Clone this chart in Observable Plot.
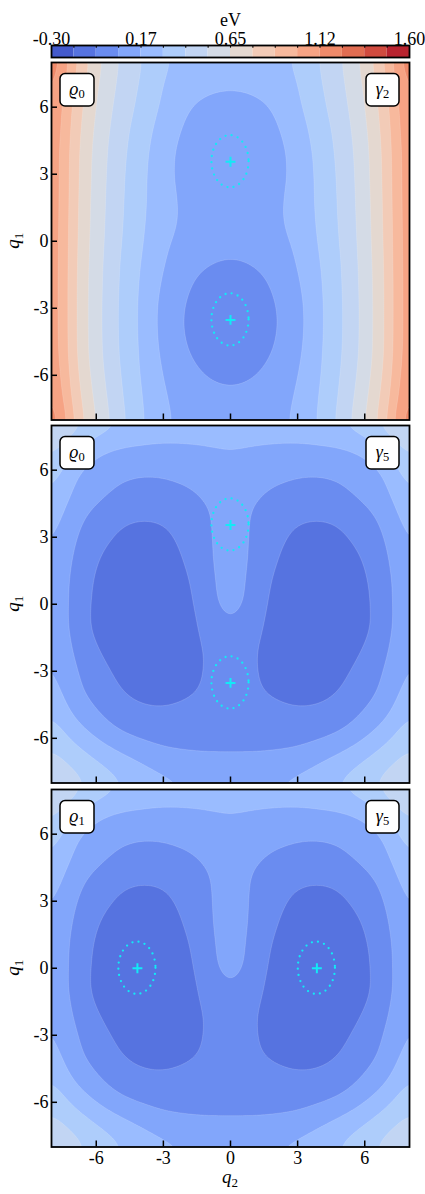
<!DOCTYPE html>
<html>
<head>
<meta charset="utf-8">
<script src="https://cdn.jsdelivr.net/npm/d3@7"></script>
<script src="https://cdn.jsdelivr.net/npm/@observablehq/plot@0.6"></script>
<style>
  body { margin: 0; background: #fff; }
  #chart { width: 425px; }
  #chart svg { display: block; }
</style>
</head>
<body>
<div id="chart"></div>
<script>
// ---------- data ----------
const levels = [-0.30, -0.18125, -0.0625, 0.05625, 0.175, 0.29375, 0.4125, 0.53125, 0.65,
                0.76875, 0.8875, 1.00625, 1.125, 1.24375, 1.3625, 1.48125, 1.60];
const bandColors = ["#445acc","#5673e0","#6a8cf0","#82a6fb","#9abcff","#aecdfb","#c2d5f3","#d4dbe6",
                    "#e4d8d0","#f2cbb7","#f7b99d","#f6a384","#ef8a6a","#e16d52","#d04b3f","#b8232f"];
const cbTickValues = [-0.30, 0.175, 0.65, 1.125, 1.60];
const cbTickLabels = ["-0.30", "0.17", "0.65", "1.12", "1.60"];
const cbLabel = "eV";
const axisTicks = [-6, -3, 0, 3, 6];
const axisTickLabels = ["-6", "-3", "0", "3", "6"];
const q2Nodes = [-8,-7,-6,-5,-4,-3,-2,-1,0,1,2,3,4,5,6,7,8];
const q1Nodes = [8,7,6,5,4,3,2,1,0,-1,-2,-3,-4,-5,-6,-7,-8]; // rows, top to bottom

// energy (eV) read at the grid nodes, mode gamma2 (rows q1 = 8 ... -8, columns q2 = -8 ... 8)
const surfaceGamma2 = [
  [1.27,0.911,0.69,0.525,0.42,0.30,0.27,0.25,0.24,0.25,0.27,0.30,0.42,0.525,0.69,0.911,1.27],
  [1.20,0.885,0.66,0.51,0.40,0.285,0.225,0.195,0.185,0.195,0.225,0.285,0.40,0.51,0.66,0.885,1.20],
  [1.16,0.85,0.64,0.49,0.38,0.27,0.18,0.145,0.133,0.145,0.18,0.27,0.38,0.49,0.64,0.85,1.16],
  [1.15,0.83,0.62,0.47,0.35,0.24,0.155,0.11,0.096,0.11,0.155,0.24,0.35,0.47,0.62,0.83,1.15],
  [1.14,0.815,0.605,0.455,0.335,0.215,0.135,0.092,0.077,0.092,0.135,0.215,0.335,0.455,0.605,0.815,1.14],
  [1.14,0.81,0.60,0.445,0.325,0.21,0.133,0.091,0.076,0.091,0.133,0.21,0.325,0.445,0.60,0.81,1.14],
  [1.14,0.805,0.595,0.44,0.32,0.215,0.15,0.105,0.09,0.105,0.15,0.215,0.32,0.44,0.595,0.805,1.14],
  [1.14,0.80,0.59,0.435,0.315,0.21,0.157,0.115,0.10,0.115,0.157,0.21,0.315,0.435,0.59,0.80,1.14],
  [1.14,0.795,0.586,0.427,0.305,0.195,0.14,0.10,0.085,0.10,0.14,0.195,0.305,0.427,0.586,0.795,1.14],
  [1.14,0.79,0.578,0.415,0.29,0.178,0.10,0.058,0.045,0.058,0.10,0.178,0.29,0.415,0.578,0.79,1.14],
  [1.14,0.785,0.573,0.41,0.28,0.155,0.067,0.014,-0.004,0.014,0.067,0.155,0.28,0.41,0.573,0.785,1.14],
  [1.14,0.785,0.57,0.405,0.275,0.134,0.045,-0.008,-0.026,-0.008,0.045,0.134,0.275,0.405,0.57,0.785,1.14],
  [1.14,0.785,0.57,0.405,0.275,0.132,0.043,-0.01,-0.028,-0.01,0.043,0.132,0.275,0.405,0.57,0.785,1.14],
  [1.145,0.788,0.573,0.41,0.28,0.145,0.061,0.008,-0.01,0.008,0.061,0.145,0.28,0.41,0.573,0.788,1.145],
  [1.16,0.81,0.59,0.425,0.285,0.165,0.095,0.046,0.028,0.046,0.095,0.165,0.285,0.425,0.59,0.81,1.16],
  [1.19,0.84,0.615,0.44,0.30,0.18,0.13,0.093,0.08,0.093,0.13,0.18,0.30,0.44,0.615,0.84,1.19],
  [1.27,0.88,0.64,0.46,0.31,0.19,0.145,0.12,0.11,0.12,0.145,0.19,0.31,0.46,0.64,0.88,1.27]
];

// energy (eV) read at the grid nodes, mode gamma5
const surfaceGamma5 = [
  [0.545,0.46,0.38,0.31,0.26,0.23,0.22,0.215,0.215,0.215,0.22,0.23,0.26,0.31,0.38,0.46,0.545],
  [0.46,0.32,0.205,0.17,0.165,0.163,0.168,0.174,0.178,0.174,0.168,0.163,0.165,0.17,0.205,0.32,0.46],
  [0.38,0.19,0.13,0.085,0.07,0.075,0.10,0.13,0.16,0.13,0.10,0.075,0.07,0.085,0.13,0.19,0.38],
  [0.31,0.15,0.095,0.035,0.012,0.015,0.035,0.085,0.155,0.085,0.035,0.015,0.012,0.035,0.095,0.15,0.31],
  [0.25,0.10,0.02,-0.045,-0.057,-0.05,-0.02,0.035,0.155,0.035,-0.02,-0.05,-0.057,-0.045,0.02,0.10,0.25],
  [0.205,0.065,-0.028,-0.076,-0.094,-0.082,-0.04,0.03,0.15,0.03,-0.04,-0.082,-0.094,-0.076,-0.028,0.065,0.205],
  [0.18,0.04,-0.064,-0.106,-0.121,-0.106,-0.06,0.03,0.14,0.03,-0.06,-0.106,-0.121,-0.106,-0.064,0.04,0.18],
  [0.172,0.02,-0.084,-0.127,-0.14,-0.126,-0.086,0.02,0.13,0.02,-0.086,-0.126,-0.14,-0.127,-0.084,0.02,0.172],
  [0.168,0.018,-0.095,-0.136,-0.15,-0.14,-0.105,0.012,0.12,0.012,-0.105,-0.14,-0.15,-0.136,-0.095,0.018,0.168],
  [0.172,0.015,-0.098,-0.138,-0.15,-0.14,-0.105,-0.025,0.05,-0.025,-0.105,-0.14,-0.15,-0.138,-0.098,0.015,0.172],
  [0.18,0.04,-0.06,-0.118,-0.138,-0.135,-0.115,-0.045,-0.018,-0.045,-0.115,-0.135,-0.138,-0.118,-0.06,0.04,0.18],
  [0.205,0.07,-0.02,-0.085,-0.118,-0.12,-0.10,-0.048,-0.03,-0.048,-0.10,-0.12,-0.118,-0.085,-0.02,0.07,0.205],
  [0.25,0.09,0.015,-0.058,-0.085,-0.092,-0.075,-0.045,-0.028,-0.045,-0.075,-0.092,-0.085,-0.058,0.015,0.09,0.25],
  [0.31,0.16,0.075,-0.005,-0.04,-0.045,-0.03,-0.015,-0.01,-0.015,-0.03,-0.045,-0.04,-0.005,0.075,0.16,0.31],
  [0.38,0.27,0.17,0.09,0.05,0.025,0.02,0.022,0.025,0.022,0.02,0.025,0.05,0.09,0.17,0.27,0.38],
  [0.46,0.38,0.30,0.23,0.165,0.11,0.09,0.078,0.075,0.078,0.09,0.11,0.165,0.23,0.30,0.38,0.46],
  [0.545,0.46,0.38,0.31,0.26,0.21,0.185,0.17,0.165,0.17,0.185,0.21,0.26,0.31,0.38,0.46,0.545]
];

// markers (centre of the dotted ellipses and crosses) per panel
const markersPanel1 = [{q2: 0, q1: 3.56}, {q2: 0, q1: -3.52}];
const markersPanel2 = [{q2: 0, q1: 3.55}, {q2: 0, q1: -3.52}];
const markersPanel3 = [{q2: -4.16, q1: 0}, {q2: 3.86, q1: 0}];
const ellipseRadii = {q2: 0.83, q1: 1.17};

const panelStates = [["ϱ", "0"], ["ϱ", "0"], ["ϱ", "1"]];
const panelModes = [["γ", "2"], ["γ", "5"], ["γ", "5"]];
const panelSurfaces = [surfaceGamma2, surfaceGamma5, surfaceGamma5];
const panelMarkers = [markersPanel1, markersPanel2, markersPanel3];
const axisNames = {y: ["q", "1"], x: ["q", "2"]};

// ---------- rendering ----------
const FONT = "'Liberation Serif', 'DejaVu Serif', serif";
const CYAN = "#12eaf6";
const chart = document.getElementById("chart");
const domainLim = 8;

// colour bar
const cbBands = bandColors.map((c, i) => ({lo: levels[i], hi: levels[i + 1], color: c}));
const colorbar = Plot.plot({
  width: 425, height: 60,
  marginLeft: 51, marginRight: 16, marginTop: 45, marginBottom: 3,
  style: {fontFamily: FONT, fontSize: "18px", color: "black", background: "white"},
  x: {domain: [levels[0], levels[levels.length - 1]], axis: null},
  y: {domain: [0, 1], axis: null},
  color: {type: "identity"},
  marks: [
    Plot.rect(cbBands, {x1: "lo", x2: "hi", y1: 0, y2: 1, fill: d => d.color}),
    Plot.ruleX(levels.slice(1, -1), {y1: 1, y2: 0.78, stroke: "black", strokeWidth: 1.1}),
    Plot.frame({stroke: "black", strokeWidth: 1.8}),
    Plot.text(cbTickValues, {x: d => d, text: (d, i) => cbTickLabels[i], frameAnchor: "top", lineAnchor: "bottom", dy: -1, fill: "black"}),
    Plot.text([cbLabel], {frameAnchor: "top", lineAnchor: "bottom", dy: -20, fill: "black"})
  ]
});
chart.appendChild(colorbar);

function labelBox(svg, x, y, w, h, parts) {
  const g = svg.append("g");
  g.append("rect").attr("x", x).attr("y", y).attr("width", w).attr("height", h)
    .attr("rx", 5).attr("ry", 5).attr("fill", "white").attr("stroke", "black").attr("stroke-width", 1.5);
  const t = g.append("text").attr("x", x + w / 2).attr("y", y + 21)
    .attr("text-anchor", "middle").attr("font-family", FONT).attr("font-size", 18).attr("fill", "black");
  t.append("tspan").attr("font-style", "italic").text(parts[0]);
  t.append("tspan").attr("font-size", 12.5).attr("dy", 3.5).text(parts[1]);
}

function subText(svg, x, y, parts, rotate) {
  const t = svg.append("text").attr("text-anchor", "middle").attr("font-family", FONT)
    .attr("font-size", 19).attr("fill", "black")
    .attr("transform", `translate(${x},${y})` + (rotate ? " rotate(-90)" : ""));
  t.append("tspan").attr("font-style", "italic").text(parts[0]);
  t.append("tspan").attr("font-size", 13).attr("dy", 4).text(parts[1]);
}

for (let idx = 0; idx < 3; idx++) {
  const isBottom = idx === 2;
  const surface = panelSurfaces[idx];
  const samples = [];
  surface.forEach((row, r) => row.forEach((v, c) => samples.push({q2: q2Nodes[c], q1: q1Nodes[r], v})));
  const markers = panelMarkers[idx];
  const marginTop = isBottom ? 3 : 2;
  const marginBottom = isBottom ? 47.5 : 3.5;
  const height = marginTop + 357.5 + marginBottom;
  const plot = Plot.plot({
    width: 425, height,
    marginLeft: 51, marginRight: 16, marginTop, marginBottom,
    style: {fontFamily: FONT, fontSize: "18px", color: "black", background: "white"},
    x: {domain: [-domainLim, domainLim]},
    y: {domain: [-domainLim, domainLim]},
    color: {type: "threshold", domain: levels.slice(1, -1), range: bandColors},
    marks: [
      Plot.contour(samples, {
        x: "q2", y: "q1", fill: "v", interpolate: "barycentric", blur: 4,
        x1: q2Nodes[0], x2: q2Nodes[q2Nodes.length - 1],
        y1: q1Nodes[q1Nodes.length - 1], y2: q1Nodes[0],
        thresholds: levels,
        stroke: "white", strokeOpacity: 0.25, strokeWidth: 0.6, clip: true
      }),
      Plot.axisY(axisTicks, {anchor: "left", tickSize: 6, dx: 6, tickFormat: () => "", label: null, strokeWidth: 1.5}),
      Plot.axisY(axisTicks, {anchor: "left", tickSize: 0, tickPadding: 3, label: null,
        tickFormat: d => axisTickLabels[axisTicks.indexOf(d)], fill: "black"}),
      Plot.axisX(axisTicks, {anchor: "bottom", tickSize: 6, dy: -6, tickFormat: () => "", label: null, strokeWidth: 1.5}),
      isBottom ? Plot.axisX(axisTicks, {anchor: "bottom", tickSize: 0, tickPadding: 4, label: null,
        tickFormat: d => axisTickLabels[axisTicks.indexOf(d)], fill: "black"}) : null,
      Plot.dot(markers, {x: "q2", y: "q1", symbol: "plus", r: 3.3, stroke: CYAN, strokeWidth: 2}),
      Plot.frame({stroke: "black", strokeWidth: 1.8})
    ]
  });
  const svg = d3.select(plot);
  const sx = plot.scale("x"), sy = plot.scale("y");
  for (const m of markers) {
    svg.append("ellipse")
      .attr("cx", sx.apply(m.q2)).attr("cy", sy.apply(m.q1))
      .attr("rx", Math.abs(sx.apply(m.q2 + ellipseRadii.q2) - sx.apply(m.q2)))
      .attr("ry", Math.abs(sy.apply(m.q1 + ellipseRadii.q1) - sy.apply(m.q1)))
      .attr("fill", "none").attr("stroke", CYAN).attr("stroke-width", 2.3)
      .attr("stroke-dasharray", "0 6.3").attr("stroke-linecap", "round");
  }
  const left = 51, right = 425 - 16, top = marginTop;
  labelBox(svg, left + 9, top + 11.5, 34, 32.5, panelStates[idx]);
  labelBox(svg, right - 43, top + 11.5, 33, 32.5, panelModes[idx]);
  subText(svg, 19, top + 357.5 / 2, axisNames.y, true);
  if (isBottom) subText(svg, (left + right) / 2, top + 357.5 + 36, axisNames.x, false);
  chart.appendChild(plot);
}
</script>
</body>
</html>
